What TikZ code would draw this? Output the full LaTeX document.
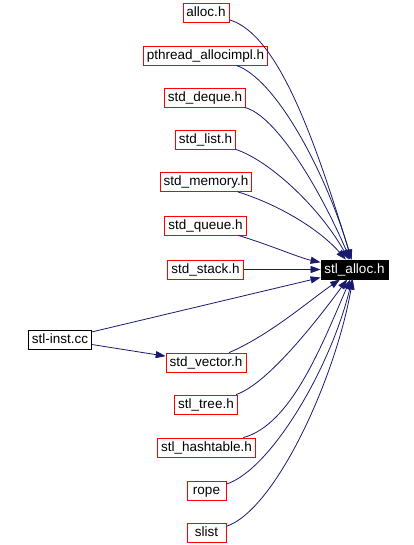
\documentclass[tikz,border=0pt]{standalone}
\usepackage{fontspec}
\setmainfont{Liberation Sans}
\usetikzlibrary{arrows.meta}
\definecolor{midnight}{RGB}{25,25,112}
\tikzset{
	file/.style = {draw = red, line width = 0.8pt, inner xsep = 3.5pt, inner ysep = 0pt, minimum width = 39pt, minimum height = 19pt, text height = 9.8pt, text depth = 2.6pt, font = \fontsize{13.5}{15}\selectfont},
	plainfile/.style = {file, draw = black},
	dep/.style = {draw = midnight, line width = 0.8pt, -{Triangle[length = 10pt, width = 7pt]}}
}
\begin{document}
\begin{tikzpicture} [x = 1pt, y = -1pt]
	\useasboundingbox (0,0) rectangle (414,545);
	\node [file, fill = black, draw = black, text = white] (stl) at (354.5,269.5) {stl\_alloc.h};
	\node [file] (alloc) at (206,13) {alloc.h};
	\node [file] (pthread) at (205.5,55.5) {pthread\_allocimpl.h};
	\node [file] (deque) at (205,97.5) {std\_deque.h};
	\node [file] (list) at (205.5,139.5) {std\_list.h};
	\node [file] (memory) at (206,182) {std\_memory.h};
	\node [file] (queue) at (205.5,225.5) {std\_queue.h};
	\node [file] (stack) at (205.5,269.5) {std\_stack.h};
	\node [plainfile] (inst) at (60,339.5) {stl-inst.cc};
	\node [file] (vector) at (206,362.5) {std\_vector.h};
	\node [file] (tree) at (206,404.5) {stl\_tree.h};
	\node [file] (hash) at (206.5,447.5) {stl\_hashtable.h};
	\node [file] (rope) at (206.5,490.5) {rope};
	\node [file] (slist) at (206.5,533) {slist};
	% headers above the target
	\draw [dep] (alloc) .. controls (278,34) and (315,140) .. (stl);
	\draw [dep] (pthread) .. controls (275,78) and (325,170) .. (stl);
	\draw [dep] (deque) .. controls (275,115) and (318,185) .. (stl);
	\draw [dep] (list) .. controls (268,160) and (318,205) .. (stl);
	\draw [dep] (memory) .. controls (280,205) and (320,230) .. (stl);
	\draw [dep] (queue) .. controls (270,245) and (300,258) .. (stl);
	\draw [dep] (stack) -- (stl);
	% stl-inst.cc
	\draw [dep] (inst) -- (stl);
	\draw [dep] (inst) -- (vector);
	% headers below the target
	\draw [dep] (vector) .. controls (270,335) and (310,300) .. (stl);
	\draw [dep] (tree) .. controls (265,385) and (310,330) .. (stl);
	\draw [dep] (hash) .. controls (290,425) and (320,350) .. (stl);
	\draw [dep] (rope) .. controls (270,470) and (330,370) .. (stl);
	\draw [dep] (slist) .. controls (275,510) and (335,380) .. (stl);
\end{tikzpicture}
\end{document}
